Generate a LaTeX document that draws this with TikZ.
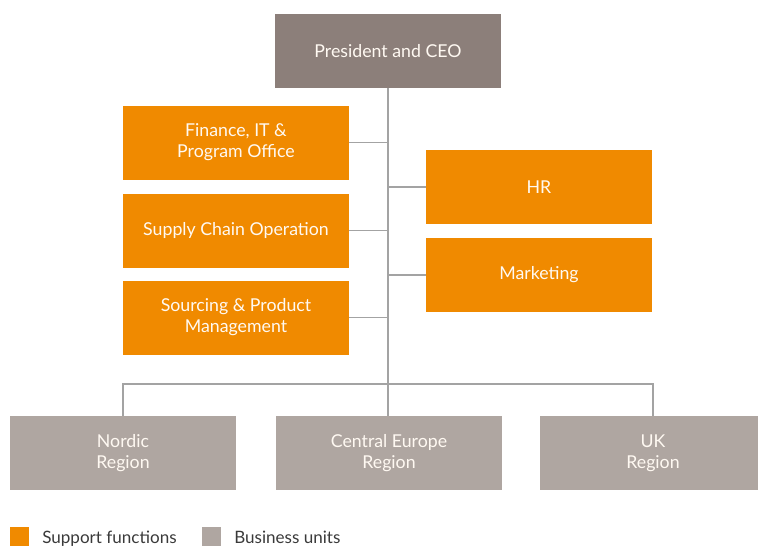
\documentclass[tikz,border=0pt]{standalone}
\usepackage{fontspec}
\setmainfont{Lato}
\definecolor{support}{HTML}{F08A00}
\definecolor{boss}{HTML}{8C7F7A}
\definecolor{business}{HTML}{AFA6A1}
\definecolor{wire}{HTML}{A3A3A3}
\definecolor{legendtext}{HTML}{3A3A3A}
\begin{document}
\begin{tikzpicture}[x=0.75pt,y=-0.75pt,
        unit/.style={minimum width=169.5pt,minimum height=55.5pt,inner sep=0pt,
            align=center,text=white!95!orange,font=\fontsize{13.3}{15.8}\selectfont},
        supportunit/.style={unit,fill=support},
        businessunit/.style={unit,fill=business},
        wire/.style={draw=wire,line width=0.9pt},
        legendbox/.style={minimum size=14pt,inner sep=0pt,anchor=north west},
        legendlabel/.style={anchor=base west,inner sep=0pt,text=legendtext,
            font=\fontsize{12.8}{15}\selectfont}]
        \clip (0,0) rectangle (758,546);

        \coordinate (CEO) at (388,51);
        \coordinate (FIN) at (236,142.5);
        \coordinate (SCO) at (236,230.5);
        \coordinate (SPM) at (236,317.5);
        \coordinate (HR) at (539,187);
        \coordinate (MKT) at (539,275);
        \coordinate (NOR) at (123,453);
        \coordinate (CE) at (389,453);
        \coordinate (UK) at (653,453);
        \coordinate (BUS) at (388,384);

        \node [unit,fill=boss] (ceo) at (CEO) {President and CEO};
        \node [supportunit] (fin) at (FIN) {Finance, IT \&\\Program Office};
        \node [supportunit] (sco) at (SCO) {Supply Chain Operation};
        \node [supportunit] (spm) at (SPM) {Sourcing \& Product\\Management};
        \node [supportunit] (hr) at (HR) {HR};
        \node [supportunit] (mkt) at (MKT) {Marketing};
        \node [businessunit] (nor) at (NOR) {Nordic\\Region};
        \node [businessunit] (ce) at (CE) {Central Europe\\Region};
        \node [businessunit] (uk) at (UK) {UK\\Region};

        \draw [wire] (ceo.south) -- (ceo.south |- ce.north);
        \draw [wire] (fin.east) -- (fin.east -| ceo.south);
        \draw [wire] (sco.east) -- (sco.east -| ceo.south);
        \draw [wire] (spm.east) -- (spm.east -| ceo.south);
        \draw [wire] (hr.west) -- (hr.west -| ceo.south);
        \draw [wire] (mkt.west) -- (mkt.west -| ceo.south);
        \draw [wire] (nor.north) |- (BUS) -| (uk.north);

        \node [legendbox,fill=support] (keysupport) at (10,527) {};
        \node [legendbox,fill=business] (keybusiness) at (202,527) {};
        \node [legendlabel] (keysupporttext) at (42,543) {Support functions};
        \node [legendlabel] (keybusinesstext) at (234,543) {Business units};
    \end{tikzpicture}
\end{document}
